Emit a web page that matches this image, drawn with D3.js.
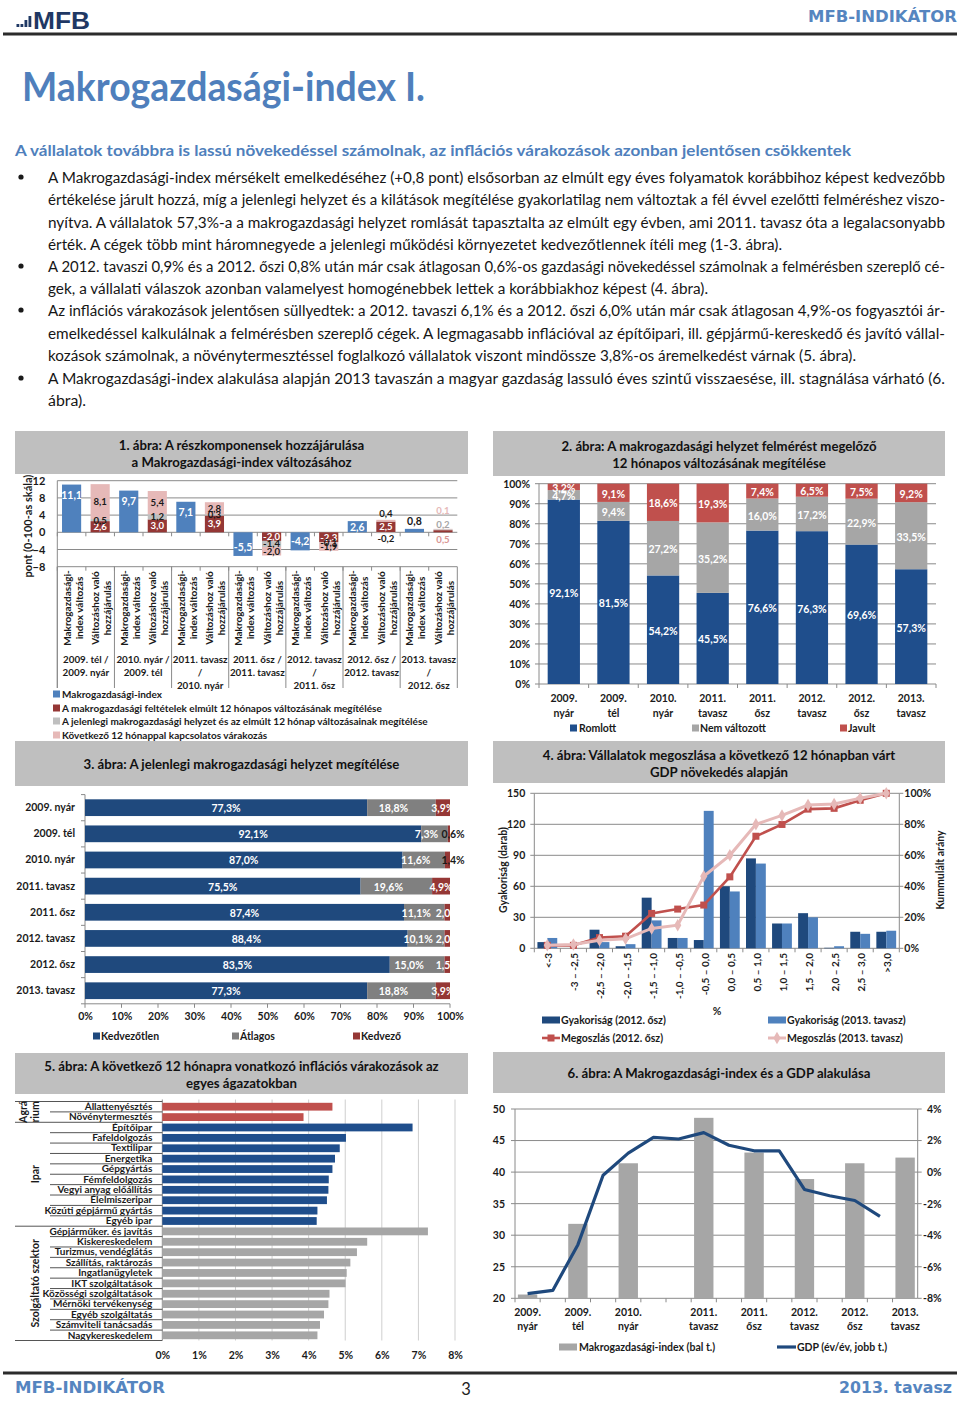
<!DOCTYPE html>
<html><head><meta charset="utf-8">
<script src="https://cdn.jsdelivr.net/npm/d3@7/dist/d3.min.js"></script>
<style>
html,body{margin:0;padding:0;background:#fff;}
svg{display:block;}
</style></head>
<body>
<svg id="page" width="960" height="1401" xmlns="http://www.w3.org/2000/svg"></svg>
<script>
// ================= DATA =================
// Chart 1
const c1Periods = [["2009. tél /","2009. nyár"],["2010. nyár /","2009. tél"],["2011. tavasz","/","2010. nyár"],["2011. ősz /","2011. tavasz"],["2012. tavasz","/","2011. ősz"],["2012. ősz /","2012. tavasz"],["2013. tavasz","/","2012. ősz"]];
const c1IndexChange = [11.1, 9.7, 7.1, -5.5, -4.2, 2.6, 0.8];
const c1Conditions = [2.6, 3.0, 3.9, -2.0, -2.3, 2.5, 0.5];
const c1Current = [0.5, 1.2, 0.3, -1.4, -0.1, -0.2, 0.2];
const c1Expect = [8.1, 5.4, 2.8, -2.0, -1.9, 0.4, 0.1];
const c1Ticks = [12, 8, 4, 0, -4, -8];
const c1BarNames = [["Makrogazdasági-","index változás"],["Változáshoz való","hozzájárulás"]];
const c1Legend = ["Makrogazdasági-index","A makrogazdasági feltételek elmúlt 12 hónapos változásának megítélése","A jelenlegi makrogazdasági helyzet és az elmúlt 12 hónap változásainak megítélése","Következő 12 hónappal kapcsolatos várakozás"];

// Chart 2
const c2Cats = [["2009.","nyár"],["2009.","tél"],["2010.","nyár"],["2011.","tavasz"],["2011.","ősz"],["2012.","tavasz"],["2012.","ősz"],["2013.","tavasz"]];
const c2Worse = [92.1, 81.5, 54.2, 45.5, 76.6, 76.3, 69.6, 57.3];
const c2Same = [4.7, 9.4, 27.2, 35.2, 16.0, 17.2, 22.9, 33.5];
const c2Better = [3.2, 9.1, 18.6, 19.3, 7.4, 6.5, 7.5, 9.2];
const c2Ticks = [0,10,20,30,40,50,60,70,80,90,100];
const c2Legend = ["Romlott","Nem változott","Javult"];

// Chart 3
const c3Cats = ["2009. nyár","2009. tél","2010. nyár","2011. tavasz","2011. ősz","2012. tavasz","2012. ősz","2013. tavasz"];
const c3Unfav = [77.3, 92.1, 87.0, 75.5, 87.4, 88.4, 83.5, 77.3];
const c3Avg = [18.8, 7.3, 11.6, 19.6, 11.1, 10.1, 15.0, 18.8];
const c3Fav = [3.9, 0.6, 1.4, 4.9, 2.0, 2.0, 1.5, 3.9];
const c3Ticks = [0,10,20,30,40,50,60,70,80,90,100];
const c3Legend = ["Kedvezőtlen","Átlagos","Kedvező"];

// Chart 4
const c4Cats = ["<-3","-3 – -2,5","-2,5 – -2,0","-2,0 – -1,5","-1,5 – -1,0","-1,0 – -0,5","-0,5 – 0,0","0,0 – 0,5","0,5 – 1,0","1,0 – 1,5","1,5 – 2,0","2,0 – 2,5","2,5 – 3,0",">3,0"];
const c4Freq2012 = [6, 0, 18, 2, 49, 10, 8, 60, 87, 24, 34, 0.5, 16, 16];
const c4Freq2013 = [10, 0, 6, 4, 27, 10, 133, 55, 82, 24, 30, 2, 14, 17];
const c4Cum2012 = [1.9, 1.9, 6.9, 7.8, 22.5, 25.3, 27.9, 46.1, 72.3, 79.9, 89.8, 90.3, 95.5, 100];
const c4Cum2013 = [2.0, 2.4, 5.2, 6.1, 12.8, 14.9, 46.5, 60.0, 80.0, 85.7, 92.4, 93.1, 96.8, 100];
const c4LeftTicks = [0, 30, 60, 90, 120, 150];
const c4RightTicks = [0, 20, 40, 60, 80, 100];
const c4Legend = ["Gyakoriság (2012. ősz)","Gyakoriság (2013. tavasz)","Megoszlás (2012. ősz)","Megoszlás (2013. tavasz)"];

// Chart 5
const c5Sectors = ["Állattenyésztés","Növénytermesztés","Építőipar","Fafeldolgozás","Textilipar","Energetika","Gépgyártás","Fémfeldolgozás","Vegyi anyag előállítás","Élelmiszeripar","Közúti gépjármű gyártás","Egyéb ipar","Gépjárműker. és javítás","Kiskereskedelem","Turizmus, vendéglátás","Szállítás, raktározás","Ingatlanügyletek","IKT szolgáltatások","Közösségi szolgáltatások","Mérnöki tervékenység","Egyéb szolgáltatás","Számviteli tanácsadás","Nagykereskedelem"];
const c5Values = [4.65, 3.86, 6.84, 5.02, 4.85, 4.72, 4.65, 4.55, 4.54, 4.50, 4.24, 4.22, 7.26, 5.60, 5.32, 5.14, 5.04, 5.01, 4.57, 4.54, 4.42, 4.31, 4.24];
const c5Group = ["agr","agr","ipar","ipar","ipar","ipar","ipar","ipar","ipar","ipar","ipar","ipar","szolg","szolg","szolg","szolg","szolg","szolg","szolg","szolg","szolg","szolg","szolg"];
const c5GroupNames = {agr:["Agrá","rium"], ipar:["Ipar"], szolg:["Szolgáltató szektor"]};
const c5Ticks = [0,1,2,3,4,5,6,7,8];

// Chart 6
const c6Quarters = ["2009Q2","2009Q3","2009Q4","2010Q1","2010Q2","2010Q3","2010Q4","2011Q1","2011Q2","2011Q3","2011Q4","2012Q1","2012Q2","2012Q3","2012Q4","2013Q1"];
const c6SurveyQ = ["2009Q2","2009Q4","2010Q2","2011Q1","2011Q3","2012Q1","2012Q3","2013Q1"];
const c6SurveyLabels = [["2009.","nyár"],["2009.","tél"],["2010.","nyár"],["2011.","tavasz"],["2011.","ősz"],["2012.","tavasz"],["2012.","ősz"],["2013.","tavasz"]];
const c6Index = [20.6, 31.8, 41.4, 48.6, 43.1, 38.9, 41.4, 42.3];
const c6GdpQ = ["2009Q2","2009Q3","2009Q4","2010Q1","2010Q2","2010Q3","2010Q4","2011Q1","2011Q2","2011Q3","2011Q4","2012Q1","2012Q2","2012Q3","2012Q4"];
const c6Gdp = [-7.7, -7.5, -4.6, -0.2, 1.2, 2.2, 2.1, 2.5, 1.7, 1.35, 1.35, -1.1, -1.5, -1.8, -2.8];
const c6LeftTicks = [20, 25, 30, 35, 40, 45, 50];
const c6RightTicks = [-8, -6, -4, -2, 0, 2, 4];
const c6Legend = ["Makrogazdasági-index (bal t.)","GDP (év/év, jobb t.)"];

// Text
const bodyLines = [
 {b:true, t:"A Makrogazdasági-index mérsékelt emelkedéséhez (+0,8 pont) elsősorban az elmúlt egy éves folyamatok korábbihoz képest kedvezőbb", w:897},
 {t:"értékelése járult hozzá, míg a jelenlegi helyzet és a kilátások megítélése gyakorlatilag nem változtak a fél évvel ezelőtti felméréshez viszo-", w:897},
 {t:"nyítva. A vállalatok 57,3%-a a makrogazdasági helyzet romlását tapasztalta az elmúlt egy évben, ami 2011. tavasz óta a legalacsonyabb", w:897},
 {t:"érték. A cégek több mint háromnegyede a jelenlegi működési környezetet kedvezőtlennek ítéli meg (1-3. ábra).", w:734},
 {b:true, t:"A 2012. tavaszi 0,9% és a 2012. őszi 0,8% után már csak átlagosan 0,6%-os gazdasági növekedéssel számolnak a felmérésben szereplő cé-", w:897},
 {t:"gek, a vállalati válaszok azonban valamelyest homogénebbek lettek a korábbiakhoz képest (4. ábra).", w:660},
 {b:true, t:"Az inflációs várakozások jelentősen süllyedtek: a 2012. tavaszi 6,1% és a 2012. őszi 6,0% után már csak átlagosan 4,9%-os fogyasztói ár-", w:897},
 {t:"emelkedéssel kalkulálnak a felmérésben szereplő cégek. A legmagasabb inflációval az építőipari, ill. gépjármű-kereskedő és javító vállal-", w:897},
 {t:"kozások számolnak, a növénytermesztéssel foglalkozó vállalatok viszont mindössze 3,8%-os áremelkedést várnak (5. ábra).", w:808},
 {b:true, t:"A Makrogazdasági-index alakulása alapján 2013 tavaszán a magyar gazdaság lassuló éves szintű visszaesése, ill. stagnálása várható (6.", w:897},
 {t:"ábra).", w:38}
];

// ================= HELPERS =================
const F = "Lato, 'Open Sans', 'DejaVu Sans', sans-serif";
const svg = d3.select("#page");
const INK = "#1a1a1a";
const GRID = "#8a8a8a";
const fmt1 = v => v.toFixed(1).replace('.', ',');

function txt(g, x, y, s, o = {}) {
  const t = g.append("text").attr("x", x).attr("y", y).text(s)
    .attr("font-family", o.family || F)
    .attr("font-size", o.size || 10.5)
    .attr("font-weight", o.weight || "bold")
    .attr("fill", o.fill || INK)
    .attr("text-anchor", o.anchor || "start")
    .attr("dominant-baseline", o.base || "central");
  if (o.len) t.attr("textLength", o.len).attr("lengthAdjust", "spacingAndGlyphs");
  if (o.rot) t.attr("transform", `rotate(${o.rot},${x},${y})`);
  return t;
}
function titleBox(x0, y0, x1, y1, lines, ys) {
  svg.append("rect").attr("x", x0).attr("y", y0).attr("width", x1 - x0).attr("height", y1 - y0).attr("fill", "#BFBFBF");
  lines.forEach((l, i) => txt(svg, (x0 + x1) / 2, ys[i], l, {size: 13.2, anchor: "middle", fill: "#111"}));
}
function styleAxis(g, size) {
  g.select(".domain").remove();
  g.selectAll(".tick line").remove();
  g.selectAll("text").attr("font-family", F).attr("font-weight", "bold").attr("font-size", size || 10.5).attr("fill", INK);
}
function hline(g, x0, x1, y, c, w) { g.append("line").attr("x1", x0).attr("x2", x1).attr("y1", y).attr("y2", y).attr("stroke", c).attr("stroke-width", w || 1); }
function vline(g, x, y0, y1, c, w) { g.append("line").attr("x1", x).attr("x2", x).attr("y1", y0).attr("y2", y1).attr("stroke", c).attr("stroke-width", w || 1); }

// ================= PAGE HEADER =================
const hdr = svg.append("g");
[[16.5, 3], [20.5, 3], [24.5, 7], [28.5, 11]].forEach(([x, h]) => hdr.append("rect").attr("x", x).attr("y", 27 - h).attr("width", 2.8).attr("height", h).attr("fill", "#1F3864"));
txt(hdr, 33, 20.5, "MFB", {size: 23, fill: "#1F3864", family: "'Liberation Sans', Arial, sans-serif", len: 57});
txt(hdr, 957, 17, "MFB-INDIKÁTOR", {size: 15.5, fill: "#5585C0", anchor: "end", family: "'DejaVu Sans', Verdana, sans-serif", len: 149});
hline(hdr, 3, 957, 34, "#2b2b2b", 3);

txt(svg, 22, 86, "Makrogazdasági-index I.", {size: 40, fill: "#4F7FBC", len: 403, weight: "bold"});
txt(svg, 15, 150, "A vállalatok továbbra is lassú növekedéssel számolnak, az inflációs várakozások azonban jelentősen csökkentek", {size: 15.5, fill: "#4F7FBC", len: 836});

const lineYs = [177, 199, 222, 244, 266, 288, 310, 333, 355, 378, 400];
bodyLines.forEach((l, i) => {
  if (l.b) svg.append("circle").attr("cx", 21).attr("cy", lineYs[i]).attr("r", 2.6).attr("fill", INK);
  txt(svg, 48, lineYs[i], l.t, {size: 14.5, weight: "normal", fill: "#161616", len: l.w});
});

// footer
hline(svg, 3, 957, 1373, "#2b2b2b", 3);
txt(svg, 15, 1388, "MFB-INDIKÁTOR", {size: 15.5, fill: "#5585C0", family: "'DejaVu Sans', Verdana, sans-serif", len: 150});
txt(svg, 466, 1389, "3", {size: 16.5, weight: "normal", anchor: "middle", fill: "#222"});
txt(svg, 952, 1388, "2013. tavasz", {size: 15.5, fill: "#5585C0", anchor: "end", family: "'DejaVu Sans', Verdana, sans-serif", len: 113});

// ================= CHART 1 =================
(function () {
  const g = svg.append("g");
  titleBox(15, 431, 468, 474, ["1. ábra: A részkomponensek hozzájárulása", "a Makrogazdasági-index változásához"], [445, 462]);
  const X0 = 57.3, X1 = 457.3;
  const y = d3.scaleLinear().domain([-8, 12]).range([566.7, 480.7]);
  const cats = d3.range(c1Periods.length * 2);
  const x = d3.scaleBand().domain(cats).range([X0, X1]).paddingInner(0.33).paddingOuter(0.165);
  const step = x.step();
  c1Ticks.forEach(t => hline(g, X0, X1, y(t), GRID, 1));
  const ax = g.append("g").attr("transform", `translate(${X0},0)`).call(d3.axisLeft(y).tickValues(c1Ticks).tickSize(0).tickPadding(12));
  styleAxis(ax, 11);
  txt(g, 27, 526, "pont (0-100-as skála)", {size: 11, anchor: "middle", rot: -90});
  vline(g, X0, 480.7, 688, GRID);
  for (let k = 0; k <= c1Periods.length; k++) vline(g, X0 + k * 2 * step, 566.7, 688, GRID);
  cats.forEach(c => { vline(g, X0 + c * step, y(0), y(0) + 4, GRID); vline(g, X0 + c * step, 566.7, 570.7, GRID); });

  const BLUE = "#4F81BD", RED = "#953735", GRAY = "#BFBFBF", PINK = "#E6B9B8";
  c1IndexChange.forEach((v, i) => {
    const bx = x(2 * i), bw = x.bandwidth();
    const top = Math.min(y(v), y(0)), h = Math.abs(y(v) - y(0));
    g.append("rect").attr("x", bx).attr("y", top).attr("width", bw).attr("height", h).attr("fill", BLUE);
    let ly, col = "#fff";
    if (Math.abs(v) < 2) { ly = y(v) - 8; col = INK; }
    else if (v > 0) ly = Math.min(y(v) + 10, (y(v) + y(0)) / 2);
    else ly = y(v) - 9;
    txt(g, bx + bw / 2, ly, fmt1(v), {size: 10.5, anchor: "middle", fill: col});
  });
  const series = [[c1Conditions, RED, "#fff"], [c1Current, GRAY, INK], [c1Expect, PINK, INK]];
  c1IndexChange.forEach((_, i) => {
    let pos = 0, neg = 0;
    const segs = series.map(([arr, fill, lc], si) => {
      const v = arr[i]; let a, b;
      if (v >= 0) { a = pos; b = pos + v; pos = b; } else { a = neg; b = neg + v; neg = b; }
      return {v, a, b, fill, lc, si};
    });
    const bx = x(2 * i + 1), bw = x.bandwidth();
    segs.forEach(s => {
      g.append("rect").attr("x", bx).attr("y", Math.min(y(s.a), y(s.b))).attr("width", bw)
        .attr("height", Math.abs(y(s.a) - y(s.b))).attr("fill", s.fill);
    });
    const total = Math.abs(pos) + Math.abs(neg);
    segs.forEach(s => {
      let ly = (y(s.a) + y(s.b)) / 2, col = s.lc;
      if (total < 1.5) {
        ly = y(0) + [7, -8, -22][s.si];
        col = ["#D99694", "#A6A6A6", "#E6B9B8"][s.si];
      } else if (Math.abs(s.v) < 0.5) {
        const outer = (s.v >= 0 && s.b === pos) || (s.v < 0 && s.b === neg);
        if (outer) ly = s.v >= 0 ? y(s.b) - 6 : y(s.b) + 5;
      }
      txt(g, bx + bw / 2, ly, fmt1(s.v), {size: 9.6, anchor: "middle", fill: col});
    });
  });
  cats.forEach(c => {
    const names = c1BarNames[c % 2];
    const cx = x(c) + x.bandwidth() / 2;
    txt(g, cx - 5, 608, names[0], {size: 10, anchor: "middle", rot: -90});
    txt(g, cx + 7, 608, names[1], {size: 10, anchor: "middle", rot: -90});
  });
  c1Periods.forEach((p, i) => {
    const cx = X0 + (2 * i + 1) * step;
    p.forEach((l, j) => txt(g, cx, 659 + j * 13, l, {size: 9.8, anchor: "middle"}));
  });
  [BLUE, RED, GRAY, PINK].forEach((c, i) => {
    const ly = [694, 708, 721, 735][i];
    g.append("rect").attr("x", 53).attr("y", ly - 3.5).attr("width", 7).attr("height", 7).attr("fill", c);
    txt(g, 62, ly, c1Legend[i], {size: 10});
  });
})();

// ================= CHART 2 =================
(function () {
  const g = svg.append("g");
  titleBox(493, 431, 945, 476, ["2. ábra: A makrogazdasági helyzet felmérést megelőző", "12 hónapos változásának megítélése"], [446, 463]);
  const X0 = 539, X1 = 936;
  const y = d3.scaleLinear().domain([0, 100]).range([684, 483.7]);
  const x = d3.scaleBand().domain(d3.range(c2Cats.length)).range([X0, X1]).paddingInner(0.35).paddingOuter(0.175);
  c2Ticks.forEach(t => hline(g, X0, X1, y(t), GRID));
  vline(g, X0, 483.7, 684, GRID);
  c2Ticks.forEach(t => hline(g, X0 - 4, X0, y(t), GRID));
  for (let k = 0; k <= c2Cats.length; k++) vline(g, X0 + k * x.step(), 684, 688, GRID);
  const ax = g.append("g").attr("transform", `translate(${X0},0)`).call(d3.axisLeft(y).tickValues(c2Ticks).tickFormat(d => d + "%").tickSize(0).tickPadding(9));
  styleAxis(ax, 10.5);
  const cols = ["#1F4E8C", "#A6A6A6", "#C0504D"];
  const data = c2Cats.map((_, i) => ({i, a: c2Worse[i], b: c2Same[i], c: c2Better[i]}));
  const stack = d3.stack().keys(["a", "b", "c"])(data);
  stack.forEach((layer, li) => {
    layer.forEach(d => {
      const i = d.data.i;
      g.append("rect").attr("x", x(i)).attr("y", y(Math.min(d[1], 100))).attr("width", x.bandwidth())
        .attr("height", y(d[0]) - y(Math.min(d[1], 100))).attr("fill", cols[li]);
    });
  });
  stack.forEach((layer, li) => {
    layer.forEach(d => {
      const i = d.data.i;
      const v = d[1] - d[0];
      txt(g, x(i) + x.bandwidth() / 2, (y(d[0]) + y(Math.min(d[1], 100))) / 2 + 1, fmt1(v) + "%", {size: 10.5, anchor: "middle", fill: "#fff"});
    });
  });
  c2Cats.forEach((c, i) => c.forEach((l, j) => txt(g, x(i) + x.bandwidth() / 2, 698 + j * 15, l, {size: 10.5, anchor: "middle"})));
  [[570, 579], [692, 700], [840, 848]].forEach(([sx, tx], i) => {
    g.append("rect").attr("x", sx).attr("y", 724.5).attr("width", 7).attr("height", 7).attr("fill", cols[i]);
    txt(g, tx, 728, c2Legend[i], {size: 10.5});
  });
})();

// ================= CHART 3 =================
(function () {
  const g = svg.append("g");
  titleBox(15, 741, 468, 786, ["3. ábra: A jelenlegi makrogazdasági helyzet megítélése"], [764]);
  const X0 = 85, X1 = 450;
  const x = d3.scaleLinear().domain([0, 100]).range([X0, X1]);
  const y = d3.scaleBand().domain(c3Cats).range([794.6, 1003.8]).paddingInner(0.36).paddingOuter(0.18);
  const clipId = "c3clip";
  svg.append("clipPath").attr("id", clipId).append("rect").attr("x", X0).attr("y", 780).attr("width", X1 - X0 + 1).attr("height", 240);
  vline(g, X0, 794.6, 1003.8, GRID);
  for (let k = 0; k <= c3Cats.length; k++) hline(g, X0 - 4, X0, 794.6 + k * y.step(), GRID);
  hline(g, X0, X1, 1003.8, GRID);
  c3Ticks.forEach(t => vline(g, x(t), 1003.8, 1007.8, GRID));
  const axx = g.append("g").attr("transform", `translate(0,1003.8)`).call(d3.axisBottom(x).tickValues(c3Ticks).tickFormat(d => d + "%").tickSize(0).tickPadding(9));
  styleAxis(axx, 10.5);
  const axy = g.append("g").attr("transform", `translate(${X0},0)`).call(d3.axisLeft(y).tickSize(0).tickPadding(10));
  styleAxis(axy, 10.5);
  const cols = ["#1F497D", "#808080", "#953735"];
  const data = c3Cats.map((c, i) => ({c, a: c3Unfav[i], b: c3Avg[i], d: c3Fav[i]}));
  const stack = d3.stack().keys(["a", "b", "d"])(data);
  stack.forEach((layer, li) => layer.forEach(d => {
    g.append("rect").attr("x", x(d[0])).attr("y", y(d.data.c)).attr("width", x(Math.min(d[1], 100)) - x(d[0]))
      .attr("height", y.bandwidth()).attr("fill", cols[li]);
  }));
  const lg = g.append("g").attr("clip-path", `url(#${clipId})`);
  stack.forEach((layer, li) => layer.forEach(d => {
    const v = d[1] - d[0];
    const cy = y(d.data.c) + y.bandwidth() / 2 + 0.5;
    if (li === 2 && v < 1.5) {
      txt(g, X1 + 3, cy, fmt1(v) + "%", {size: 10.5, anchor: "middle", fill: INK});
    } else {
      const off = li === 1 ? -8 : 0;
      txt(li === 0 ? g : lg, (x(d[0]) + x(Math.min(d[1], 100))) / 2 + off, cy, fmt1(v) + "%", {size: 10.5, anchor: "middle", fill: "#fff"});
    }
  }));
  [[93, 101], [232, 240], [353, 361]].forEach(([sx, tx], i) => {
    g.append("rect").attr("x", sx).attr("y", 1032.5).attr("width", 7).attr("height", 7).attr("fill", cols[i]);
    txt(g, tx, 1036, c3Legend[i], {size: 10.5});
  });
})();

// ================= CHART 4 =================
(function () {
  const g = svg.append("g");
  titleBox(493, 741, 945, 783, ["4. ábra: Vállalatok megoszlása a következő 12 hónapban várt", "GDP növekedés alapján"], [755, 772]);
  const X0 = 534.3, X1 = 899.3;
  const yL = d3.scaleLinear().domain([0, 150]).range([948.3, 793.3]);
  const yR = d3.scaleLinear().domain([0, 100]).range([948.3, 793.3]);
  const x = d3.scaleBand().domain(c4Cats).range([X0, X1]);
  const step = x.step(), bw = step * 0.38;
  c4LeftTicks.forEach(t => hline(g, X0, X1, yL(t), GRID));
  vline(g, X0, 793.3, 948.3, GRID); vline(g, X1, 793.3, 948.3, GRID);
  c4LeftTicks.forEach(t => hline(g, X0 - 4, X0, yL(t), GRID));
  c4RightTicks.forEach(t => hline(g, X1, X1 + 4, yR(t), GRID));
  c4Cats.forEach((c, k) => vline(g, X0 + k * step, 948.3, 952.3, GRID));
  vline(g, X1, 948.3, 952.3, GRID);
  const axl = g.append("g").attr("transform", `translate(${X0},0)`).call(d3.axisLeft(yL).tickValues(c4LeftTicks).tickSize(0).tickPadding(9));
  styleAxis(axl, 10.5);
  const axr = g.append("g").attr("transform", `translate(${X1},0)`).call(d3.axisRight(yR).tickValues(c4RightTicks).tickFormat(d => d + "%").tickSize(0).tickPadding(5));
  styleAxis(axr, 10.5);
  txt(g, 503, 870, "Gyakoriság (darab)", {size: 10.5, anchor: "middle", rot: -90});
  txt(g, 940, 870, "Kummulált arány", {size: 10.5, anchor: "middle", rot: -90});
  const DARK = "#1F497D", LIGHT = "#4F81BD";
  c4Cats.forEach((c, i) => {
    const cx = x(c) + step / 2;
    g.append("rect").attr("x", cx - bw).attr("y", yL(c4Freq2012[i])).attr("width", bw).attr("height", yL(0) - yL(c4Freq2012[i])).attr("fill", DARK);
    g.append("rect").attr("x", cx).attr("y", yL(c4Freq2013[i])).attr("width", bw).attr("height", yL(0) - yL(c4Freq2013[i])).attr("fill", LIGHT);
    txt(g, cx + 1, 953, c, {size: 10, anchor: "end", rot: -90});
  });
  const line = d3.line().x((d, i) => x(c4Cats[i]) + step / 2).y(d => yR(d));
  g.append("path").attr("d", line(c4Cum2012)).attr("fill", "none").attr("stroke", "#C0504D").attr("stroke-width", 2.6);
  c4Cum2012.forEach((v, i) => g.append("rect").attr("x", x(c4Cats[i]) + step / 2 - 3.5).attr("y", yR(v) - 3.5).attr("width", 7).attr("height", 7).attr("fill", "#C0504D"));
  g.append("path").attr("d", line(c4Cum2013)).attr("fill", "none").attr("stroke", "#E6B9B8").attr("stroke-width", 3);
  c4Cum2013.forEach((v, i) => g.append("path").attr("d", d3.symbol(d3.symbolDiamond, 45)()).attr("transform", `translate(${x(c4Cats[i]) + step / 2},${yR(v)})`).attr("fill", "#E6B9B8"));
  txt(g, 717, 1011, "%", {size: 10.5, anchor: "middle"});
  g.append("rect").attr("x", 542).attr("y", 1016.5).attr("width", 18).attr("height", 7).attr("fill", DARK);
  txt(g, 561, 1020, c4Legend[0], {size: 10.5});
  g.append("rect").attr("x", 768).attr("y", 1016.5).attr("width", 18).attr("height", 7).attr("fill", LIGHT);
  txt(g, 787, 1020, c4Legend[1], {size: 10.5});
  hline(g, 542, 560, 1038, "#C0504D", 2.6);
  g.append("rect").attr("x", 547.5).attr("y", 1034.5).attr("width", 7).attr("height", 7).attr("fill", "#C0504D");
  txt(g, 561, 1038, c4Legend[2], {size: 10.5});
  hline(g, 768, 786, 1038, "#E6B9B8", 3);
  g.append("path").attr("d", d3.symbol(d3.symbolDiamond, 45)()).attr("transform", "translate(777,1038)").attr("fill", "#E6B9B8");
  txt(g, 787, 1038, c4Legend[3], {size: 10.5});
})();

// ================= CHART 5 =================
(function () {
  const g = svg.append("g");
  titleBox(15, 1053, 468, 1094, ["5. ábra: A következő 12 hónapra vonatkozó inflációs várakozások az", "egyes ágazatokban"], [1066, 1083]);
  const X0 = 162.3, X1 = 455;
  const Y0 = 1101.5, Y1 = 1340.5;
  const x = d3.scaleLinear().domain([0, 8]).range([X0, X1]);
  const y = d3.scaleBand().domain(c5Sectors).range([Y0, Y1]).paddingInner(0.25).paddingOuter(0.125);
  c5Ticks.forEach(t => vline(g, x(t), Y0 - 2, Y1, t === 0 ? GRID : "#CFCFCF"));
  const colors = {agr: "#C0504D", ipar: "#1F4E8C", szolg: "#A6A6A6"};
  c5Sectors.forEach((s, i) => {
    g.append("rect").attr("x", X0).attr("y", y(s)).attr("width", x(c5Values[i]) - X0).attr("height", y.bandwidth()).attr("fill", colors[c5Group[i]]);
  });
  const ax = g.append("g").attr("transform", `translate(${X0},0)`).call(d3.axisLeft(y).tickSize(0).tickPadding(10));
  styleAxis(ax, 10);
  const axx = g.append("g").attr("transform", `translate(0,${Y1})`).call(d3.axisBottom(x).tickValues(c5Ticks).tickFormat(d => d + "%").tickSize(0).tickPadding(11));
  styleAxis(axx, 10.5);
  const st = y.step();
  for (let k = 0; k <= c5Sectors.length; k++) {
    const boundary = k === 0 || k === c5Sectors.length || c5Group[k] !== c5Group[k - 1];
    hline(g, boundary ? 15 : 50, X0, Y0 + k * st, "#555", 1);
  }
  Object.keys(c5GroupNames).forEach(key => {
    const idx = c5Group.map((d, i) => d === key ? i : -1).filter(i => i >= 0);
    const cy = (y(c5Sectors[idx[0]]) + y(c5Sectors[idx[idx.length - 1]]) + y.bandwidth()) / 2;
    const names = c5GroupNames[key];
    if (names.length === 2) {
      txt(g, 23, cy, names[0], {size: 10.5, anchor: "middle", rot: -90});
      txt(g, 35, cy, names[1], {size: 10.5, anchor: "middle", rot: -90});
    } else {
      txt(g, 35, cy, names[0], {size: 10.5, anchor: "middle", rot: -90});
    }
  });
})();

// ================= CHART 6 =================
(function () {
  const g = svg.append("g");
  titleBox(493, 1052, 945, 1093, ["6. ábra: A Makrogazdasági-index és a GDP alakulása"], [1073]);
  const X0 = 515, X1 = 917.7;
  const yL = d3.scaleLinear().domain([20, 50]).range([1298.3, 1109]);
  const yR = d3.scaleLinear().domain([-8, 4]).range([1298.3, 1109]);
  const x = d3.scaleBand().domain(c6Quarters).range([X0, X1]);
  const step = x.step(), bw = step * 0.77;
  c6LeftTicks.forEach(t => hline(g, X0, X1, yL(t), GRID));
  vline(g, X0, 1109, 1298.3, GRID); vline(g, X1, 1109, 1298.3, GRID);
  c6LeftTicks.forEach(t => hline(g, X0 - 4, X0, yL(t), GRID));
  c6RightTicks.forEach(t => hline(g, X1, X1 + 4, yR(t), GRID));
  c6Quarters.forEach((q, k) => vline(g, X0 + k * step, 1298.3, 1302.3, GRID));
  const axl = g.append("g").attr("transform", `translate(${X0},0)`).call(d3.axisLeft(yL).tickValues(c6LeftTicks).tickSize(0).tickPadding(10));
  styleAxis(axl, 10.5);
  const axr = g.append("g").attr("transform", `translate(${X1},0)`).call(d3.axisRight(yR).tickValues(c6RightTicks).tickFormat(d => d + "%").tickSize(0).tickPadding(24));
  styleAxis(axr, 10.5);
  axr.selectAll("text").attr("text-anchor", "end");
  c6SurveyQ.forEach((q, i) => {
    const cx = x(q) + step / 2;
    g.append("rect").attr("x", cx - bw / 2).attr("y", yL(c6Index[i])).attr("width", bw).attr("height", yL(20) - yL(c6Index[i])).attr("fill", "#A6A6A6");
    c6SurveyLabels[i].forEach((l, j) => txt(g, cx, 1312 + j * 14, l, {size: 10.5, anchor: "middle"}));
  });
  const line = d3.line().x((d, i) => x(c6GdpQ[i]) + step / 2).y(d => yR(d));
  g.append("path").attr("d", line(c6Gdp)).attr("fill", "none").attr("stroke", "#1F497D").attr("stroke-width", 3.2).attr("stroke-linejoin", "round");
  g.append("rect").attr("x", 559).attr("y", 1343.5).attr("width", 18).attr("height", 7).attr("fill", "#A6A6A6");
  txt(g, 579, 1347, c6Legend[0], {size: 10.5});
  hline(g, 777, 796, 1347, "#1F497D", 3.2);
  txt(g, 797, 1347, c6Legend[1], {size: 10.5});
})();
</script>
</body></html>
